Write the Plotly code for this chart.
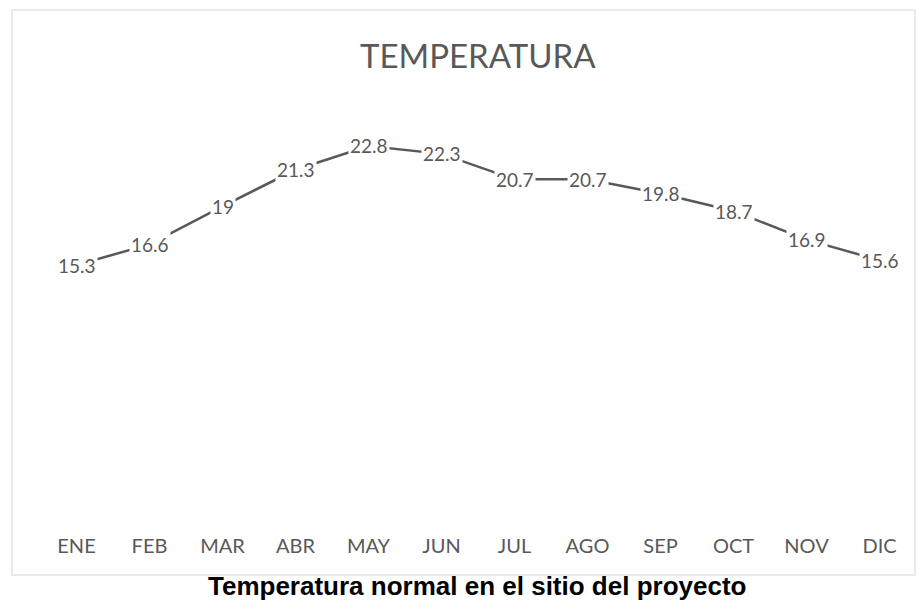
import plotly.graph_objects as go

months = ["ENE", "FEB", "MAR", "ABR", "MAY", "JUN", "JUL", "AGO", "SEP", "OCT", "NOV", "DIC"]
temps = [15.3, 16.6, 19.0, 21.3, 22.8, 22.3, 20.7, 20.7, 19.8, 18.7, 16.9, 15.6]
title_text = "TEMPERATURA"
caption_text = "Temperatura normal en el sitio del proyecto"

GRAY = "#595959"
W, H = 919, 605
L, R, T, B = 40, 3, 111, 97
pw = W - L - R
ph = H - T - B

fig = go.Figure()
fig.add_trace(go.Scatter(
    x=months, y=temps, mode="lines",
    line=dict(color=GRAY, width=2.5),
    hoverinfo="skip", showlegend=False,
))

annotations = []
for m, v in zip(months, temps):
    annotations.append(dict(
        x=m, y=v, xref="x", yref="y", text=f"{v:g}", showarrow=False,
        font=dict(family="Lato, Open Sans, sans-serif", size=19, color=GRAY),
        bgcolor="white", borderpad=1, xanchor="center", yanchor="middle",
    ))

annotations.append(dict(
    x=(478 - L) / pw, y=(H - B - 55) / ph, xref="paper", yref="paper",
    text=title_text, showarrow=False, xanchor="center", yanchor="middle",
    font=dict(family="Lato, Open Sans, sans-serif", size=33, color=GRAY),
))
annotations.append(dict(
    x=(477 - L) / pw, y=(H - B - 586) / ph, xref="paper", yref="paper",
    text=f"<b>{caption_text}</b>", showarrow=False, xanchor="center", yanchor="middle",
    font=dict(family="Liberation Sans, Arial, sans-serif", size=26, color="black"),
))

fig.update_layout(
    width=W, height=H,
    margin=dict(l=L, r=R, t=T, b=B),
    paper_bgcolor="white", plot_bgcolor="white",
    annotations=annotations,
    shapes=[dict(
        type="rect", xref="paper", yref="paper",
        x0=(12 - L) / pw, x1=(915 - L) / pw,
        y0=(H - B - 575) / ph, y1=(H - B - 10) / ph,
        line=dict(color="#e3e3e3", width=1.5), fillcolor="rgba(0,0,0,0)", layer="below",
    )],
    xaxis=dict(
        type="category", range=[-0.5, 11.5], showgrid=False, zeroline=False,
        showline=False, ticks="outside", ticklen=20, tickcolor="rgba(0,0,0,0)",
        tickfont=dict(family="Lato, Open Sans, sans-serif", size=20, color=GRAY),
    ),
    yaxis=dict(
        range=[0, 25], visible=False, showgrid=False, zeroline=False,
    ),
)

fig.write_html("out.html", config={"displayModeBar": False},
               post_script="document.body.style.margin='0';")
